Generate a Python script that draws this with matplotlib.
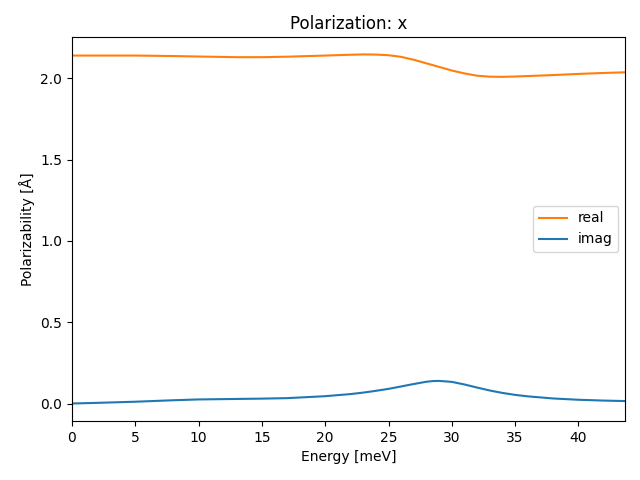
import matplotlib
matplotlib.use("Agg")
import matplotlib.pyplot as plt
import numpy as np

# energies [meV]
energy = [0, 2, 5, 8, 10, 13, 15, 17, 20, 22, 23, 24, 25, 26, 27, 28, 28.5, 29, 30,
          31, 32, 33, 34, 35, 36, 38, 40, 42, 43.7]
real = [2.140, 2.140, 2.140, 2.137, 2.134, 2.130, 2.130, 2.133, 2.140, 2.145, 2.147,
        2.146, 2.142, 2.132, 2.114, 2.092, 2.081, 2.070, 2.048, 2.030, 2.016, 2.010,
        2.009, 2.011, 2.014, 2.020, 2.027, 2.033, 2.037]
imag = [0.000, 0.004, 0.011, 0.020, 0.025, 0.028, 0.030, 0.033, 0.045, 0.058, 0.067,
        0.078, 0.090, 0.105, 0.120, 0.134, 0.138, 0.139, 0.133, 0.117, 0.098, 0.080,
        0.065, 0.053, 0.044, 0.031, 0.023, 0.018, 0.015]

fig, ax = plt.subplots(figsize=(6.4, 4.8), dpi=100)
ax.plot(energy, real, color="C1", label="real")
ax.plot(energy, imag, color="C0", label="imag")
ax.set_xlim(0, 43.7)
ax.set_xlabel("Energy [meV]")
ax.set_ylabel("Polarizability [Å]")
ax.set_title("Polarization: x")
ax.legend(loc="center right")
fig.subplots_adjust(left=0.1125, right=0.977, top=0.923, bottom=0.123)
plt.savefig("out.png")
